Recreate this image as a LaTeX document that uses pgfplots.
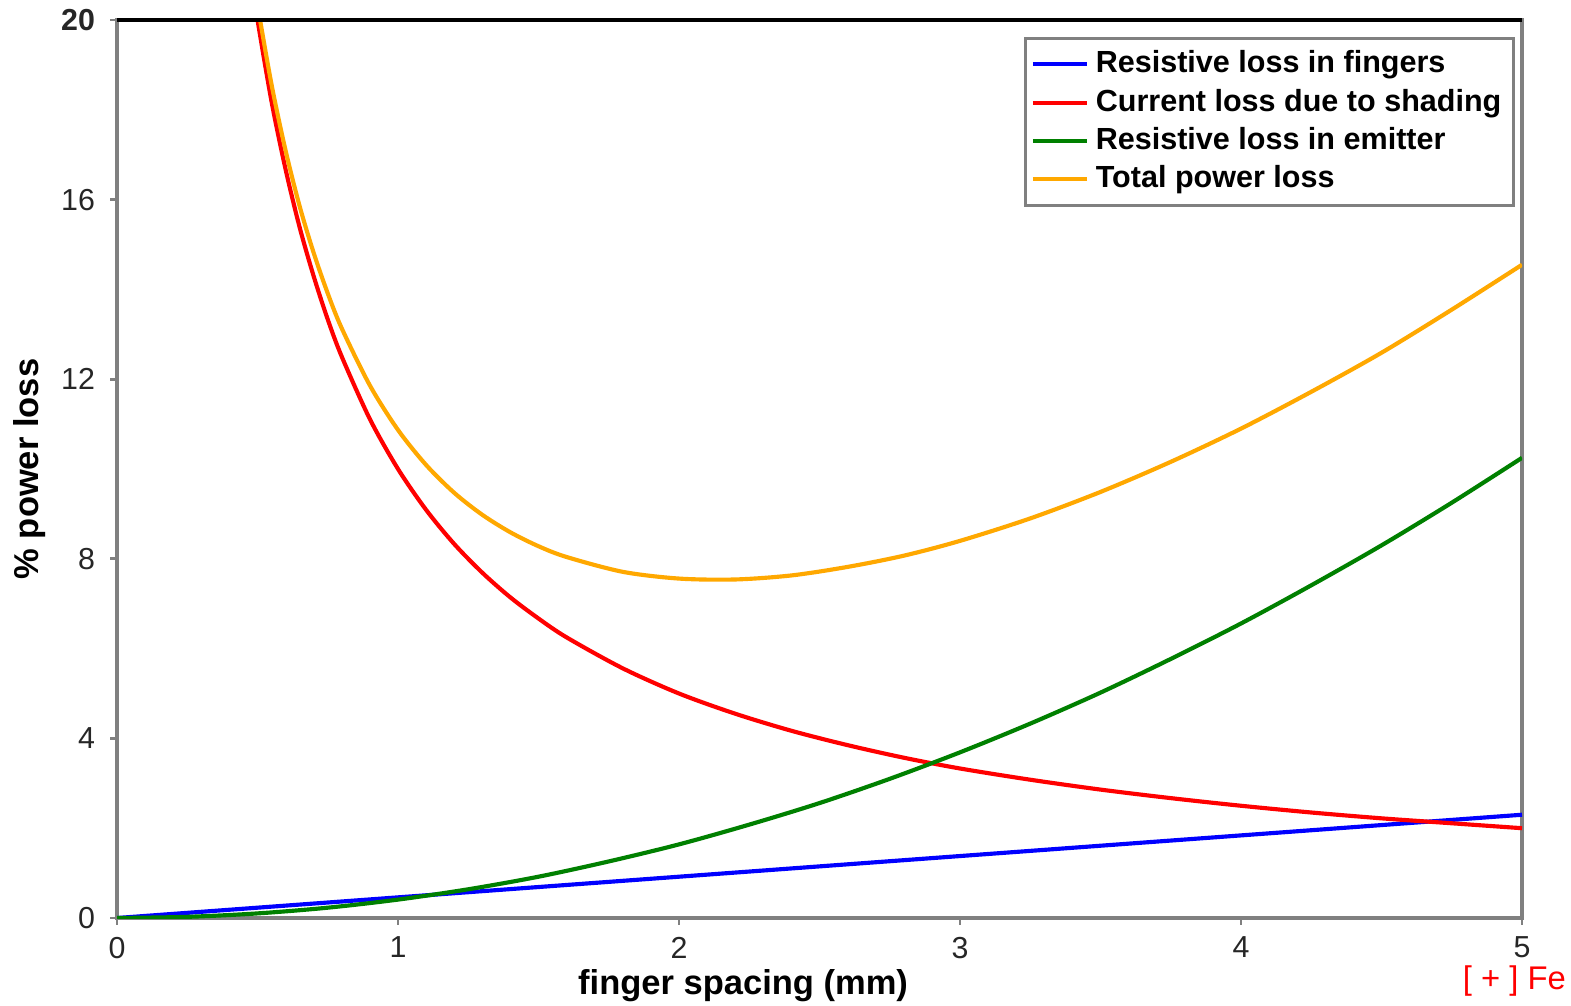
\documentclass[border=0pt]{standalone}
\usepackage{pgfplots}
\pgfplotsset{compat=1.18}
\usepackage{fontspec}
\setmainfont{Liberation Sans}
\definecolor{cblue}{RGB}{0,0,255}
\definecolor{cred}{RGB}{255,0,0}
\definecolor{cgreen}{RGB}{0,128,0}
\definecolor{corange}{RGB}{255,168,0}
\definecolor{frame}{RGB}{128,128,128}
\begin{document}
\begin{tikzpicture}
\begin{axis}[
  at={(0,0)}, anchor=south west,
  scale only axis,
  width=14.31cm, height=9.146cm,
  xmin=0, xmax=5, ymin=0, ymax=20,
  xtick={0,1,2,3,4,5},
  ytick={0,4,8,12,16,20},
  yticklabels={0,4,8,12,16,\textbf{20}},
  /pgf/number format/assume math mode=true,
  tick label style={font=\fontsize{8.8}{10}\selectfont, text=black!85},
  xtick pos=left, ytick pos=left,
  tick align=outside,
  major tick length=0.07cm,
  every tick/.style={frame, line width=0.8pt},
  axis line style={frame, line width=0.9pt},
  xticklabel style={yshift=0cm},
  yticklabel style={xshift=-0.03cm},
  xlabel={\textbf{finger spacing (mm)}},
  ylabel={\textbf{\% power loss}},
  label style={font=\fontsize{11.1}{12}\selectfont},
  every axis x label/.style={at={(axis description cs:0.4456,0)}, anchor=center, yshift=-0.69cm},
  every axis y label/.style={at={(axis description cs:0,0.5)}, rotate=90, anchor=center, yshift=0.886cm},
  legend style={at={(axis description cs:0.995,0.981)}, anchor=north east,
    draw=frame, line width=0.9pt, font=\bfseries\fontsize{8.85}{10}\selectfont,
    inner sep=1.5pt, row sep=-0.8pt, cells={anchor=west}},
  legend image post style={line width=1.2pt},
  legend image code/.code={\draw[#1] (0cm,0cm) -- (0.55cm,0cm);},
  clip=true,
]
\addplot[cblue, line width=1.2pt] coordinates {
(0,0) (0.5,0.23) (1,0.46) (1.5,0.69) (2,0.92) (2.5,1.15) (3,1.38) (3.5,1.61) (4,1.84) (4.5,2.07) (5,2.3)};
\addlegendentry{Resistive loss in fingers}
\addplot[cred, line width=1.2pt, smooth] coordinates {
(0.48,20.83) (0.5,20) (0.55,18.18) (0.6,16.67) (0.65,15.38) (0.7,14.29) (0.75,13.33) (0.8,12.5) (0.9,11.11)
(1.0,10) (1.1,9.09) (1.2,8.33) (1.3,7.69) (1.4,7.14) (1.5,6.67) (1.6,6.25) (1.8,5.56) (2.0,5.0)
(2.2,4.55) (2.4,4.17) (2.6,3.85) (2.8,3.57) (3.0,3.33) (3.25,3.08) (3.5,2.86) (3.75,2.67)
(4.0,2.5) (4.25,2.35) (4.5,2.22) (4.75,2.11) (5.0,2.0)};
\addlegendentry{Current loss due to shading}
\addplot[cgreen, line width=1.2pt, smooth] coordinates {
(0,0) (0.25,0.026) (0.5,0.1025) (0.75,0.23) (1,0.41) (1.25,0.64) (1.5,0.92) (1.75,1.26) (2,1.64)
(2.25,2.08) (2.5,2.56) (2.75,3.10) (3,3.69) (3.25,4.33) (3.5,5.02) (3.75,5.77) (4,6.56)
(4.25,7.41) (4.5,8.30) (4.75,9.25) (5,10.25)};
\addlegendentry{Resistive loss in emitter}
\addplot[corange, line width=1.2pt, smooth] coordinates {
(0.48,21.09) (0.5,20.33) (0.55,18.56) (0.6,17.09) (0.65,15.85) (0.7,14.81) (0.75,13.91) (0.8,13.13)
(0.9,11.86) (1.0,10.87) (1.1,10.09) (1.2,9.47) (1.3,8.98) (1.4,8.59) (1.5,8.28) (1.6,8.04)
(1.8,7.71) (2.0,7.56) (2.2,7.54) (2.4,7.63) (2.6,7.82) (2.8,8.07) (3.0,8.40) (3.25,8.90)
(3.5,9.49) (3.75,10.16) (4.0,10.90) (4.25,11.72) (4.5,12.59) (4.75,13.55) (5.0,14.55)};
\addlegendentry{Total power loss}
\end{axis}
\draw[black, line width=1.3pt] (0,9.146) -- (14.31,9.146);
\node[anchor=west, text=red, font=\fontsize{9.5}{11}\selectfont, inner sep=0pt] at (13.70,-0.64) {[ + ] Fe};
\pgfresetboundingbox
\useasboundingbox (-1.192,-0.896) rectangle (14.809,9.350);
\end{tikzpicture}
\end{document}
